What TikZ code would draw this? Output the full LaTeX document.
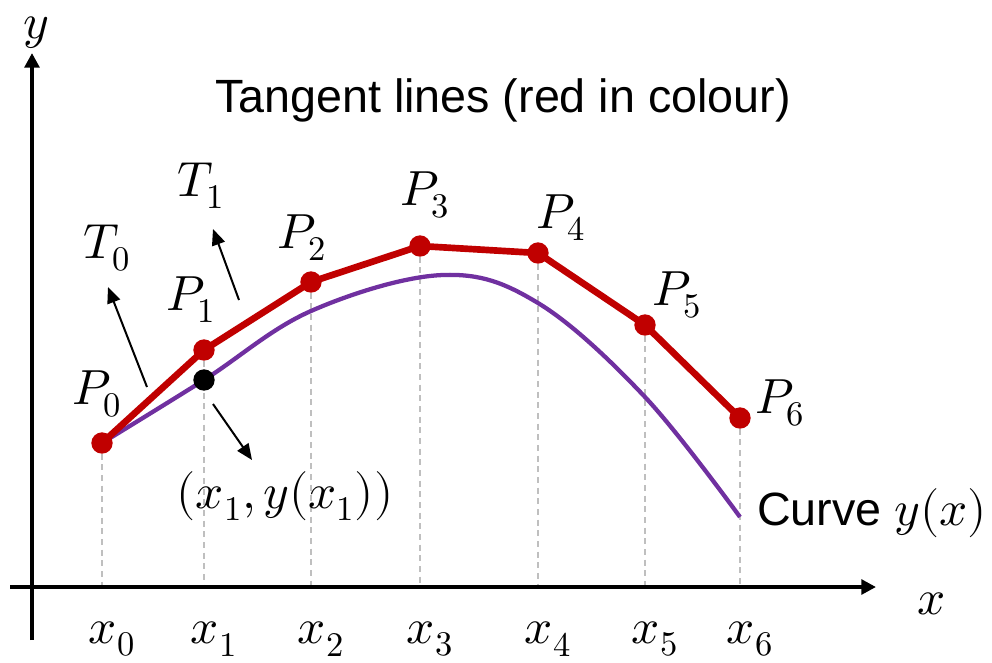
\documentclass[tikz,border=0pt]{standalone}
\usepackage{fontspec}
\usepackage{unicode-math}
\setmainfont{Liberation Sans}
\setmathfont{Latin Modern Math}
\usetikzlibrary{arrows.meta}
\definecolor{cred}{RGB}{192,0,0}
\definecolor{cpurple}{RGB}{112,48,160}
\definecolor{cgrey}{RGB}{191,191,191}

\begin{document}
\begin{tikzpicture}[x=0.75pt,y=-0.75pt,
  lab/.style={font=\fontsize{37}{44}\selectfont, inner sep=0pt},
  txt/.style={font=\fontsize{35}{42}\selectfont, inner sep=0pt},
  guide/.style={cgrey, line width=1.8pt, dash pattern=on 4.5pt off 3.5pt},
  dot/.style={circle, fill=cred, inner sep=0pt, minimum size=16pt},
  axis/.style={-{Triangle[length=11pt,width=11pt]}, line width=3pt},
  ptr/.style={-{Triangle[length=12pt,width=10pt]}, line width=1.5pt}]
\useasboundingbox (0,0) rectangle (992,662);
\def\yax{587}

\coordinate (O) at (32,\yax);
\coordinate (Q) at (204,380);

%Set up:
\foreach \n/\x/\y in {0/102/443,1/204/350,2/311/282,3/420/246,4/538/253,5/645/325,6/740/418}{
  \coordinate (p\n) at (\x,\y);
  \draw[guide] (p\n) -- (\x,\yax);
  \node[lab] (xl\n) at (\x+10,639) {$x_\n$};
}

%Curve:
\draw[cpurple, line width=3.2pt] plot[smooth, tension=0.6] coordinates
  {(102,443) (Q) (311,311) (443,275) (538,303) (645,397) (740,517)};

%Polygon:
\draw[cred, line width=5pt, line join=round] (p0) -- (p1) -- (p2) -- (p3) -- (p4) -- (p5) -- (p6);
\foreach \n in {0,...,6}
  \node[dot] (P\n) at (p\n) {};
\fill (Q) circle (8pt);

%Axes:
\draw[axis] (32,640) -- (32,53);
\draw[axis] (10,\yax) -- (876,\yax);
\node[lab] (ylab) at (36,33) {$y$};
\node[lab] (xlab) at (932,604) {$x$};

%Labels:
\node[lab] (P0l) at (97,394) {$P_0$};
\node[lab] (P1l) at (191,300) {$P_1$};
\node[lab] (P2l) at (302,238) {$P_2$};
\node[lab] (P3l) at (425,195) {$P_3$};
\node[lab] (P4l) at (561,218) {$P_4$};
\node[lab] (P5l) at (677,295) {$P_5$};
\node[lab] (P6l) at (780,403) {$P_6$};
\node[lab] (T0l) at (107,248) {$T_0$};
\node[lab] (T1l) at (201,186) {$T_1$};
\node[lab] (ptl) at (285,496) {$(x_1,y(x_1))$};
\node[txt, anchor=west] (crv) at (757,513) {Curve \fontsize{37}{44}\selectfont$y(x)$};
\node[txt] (title) at (503,100) {Tangent lines (red in colour)};

%Pointers:
\coordinate (T0s) at (147,387);
\coordinate (T0e) at (108,287);
\coordinate (T1s) at (239,300);
\coordinate (T1e) at (213,229);
\coordinate (Qs) at (213,404);
\coordinate (Qe) at (252,460);
\draw[ptr] (T0s) -- (T0e);
\draw[ptr] (T1s) -- (T1e);
\draw[ptr] (Qs) -- (Qe);
\end{tikzpicture}
\end{document}
